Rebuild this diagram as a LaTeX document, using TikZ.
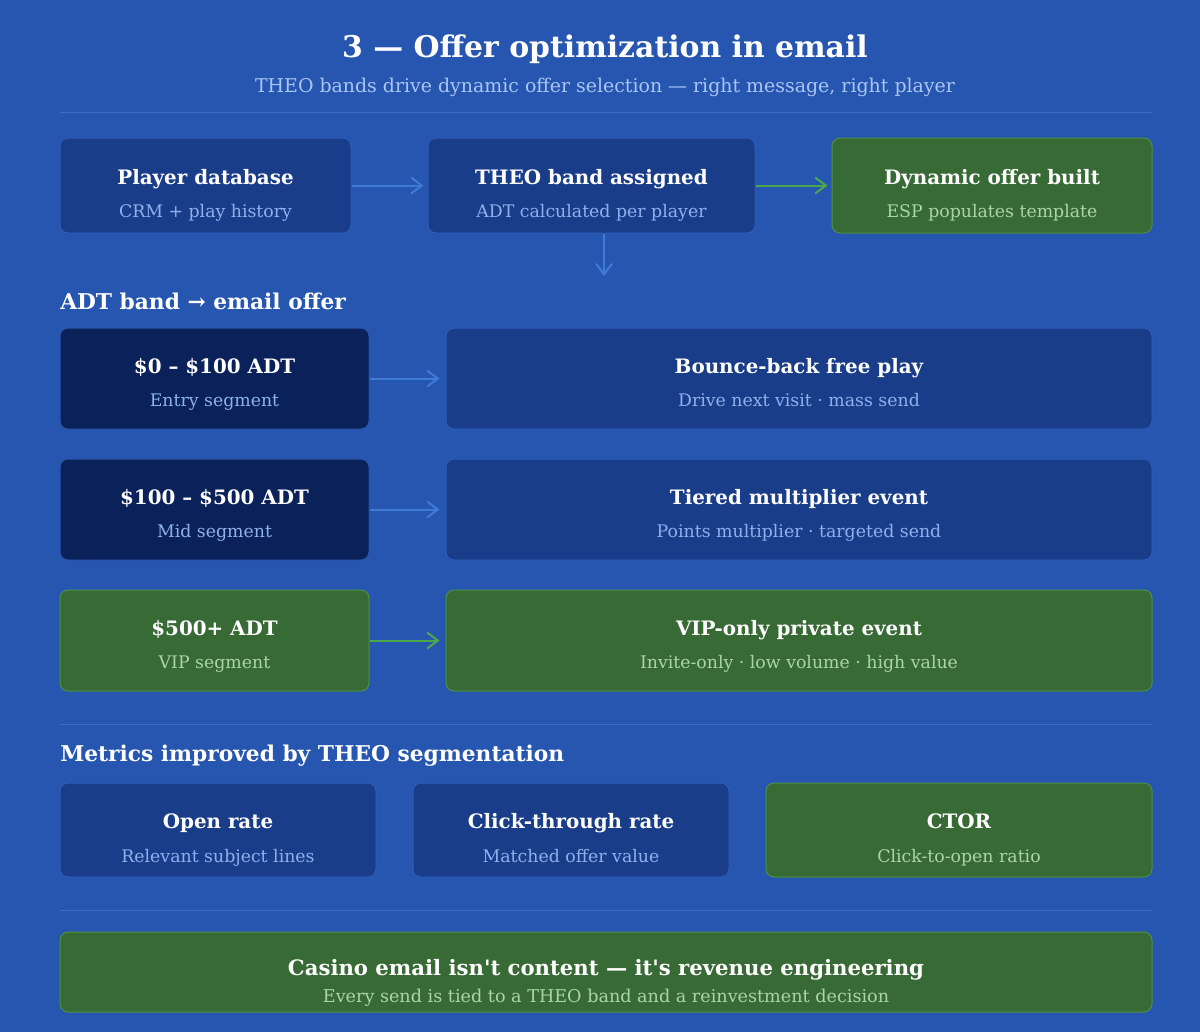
\documentclass[tikz,border=0pt]{standalone}
\usepackage{fontspec}
\setmainfont{DejaVu Serif}[Ligatures=TeXOff]
\usetikzlibrary{arrows.meta,fit}
\definecolor{bg}{HTML}{2756B0}
\definecolor{divc}{HTML}{3B6CC6}
\definecolor{bluefill}{HTML}{1A3D8A}
\definecolor{blueedge}{HTML}{2D5DB9}
\definecolor{navyfill}{HTML}{0B2159}
\definecolor{navyedge}{HTML}{2A55A8}
\definecolor{greenfill}{HTML}{386A35}
\definecolor{greenedge}{HTML}{4C8F45}
\definecolor{barrowc}{HTML}{3F7AD6}
\definecolor{garrowc}{HTML}{4CA84C}
\definecolor{bsub}{HTML}{8DB1EC}
\definecolor{gsub}{HTML}{A8D8A2}
\definecolor{hsub}{HTML}{A9C5F2}
\begin{document}
\begin{tikzpicture}[x=0.75pt,y=-0.75pt,
  boxbase/.style={rounded corners=6pt, line width=0.75pt, inner sep=0pt},
  bluebox/.style={boxbase, fill=bluefill, draw=blueedge},
  navybox/.style={boxbase, fill=navyfill, draw=navyedge},
  greenbox/.style={boxbase, fill=greenfill, draw=greenedge},
  ttl/.style={anchor=base, inner sep=0pt, text=white, font=\fontsize{14.9}{18}\selectfont\bfseries},
  bst/.style={anchor=base, inner sep=0pt, text=bsub, font=\fontsize{13}{16}\selectfont},
  gst/.style={anchor=base, inner sep=0pt, text=gsub, font=\fontsize{13}{16}\selectfont},
  hdr/.style={anchor=base west, inner sep=0pt, text=white, font=\fontsize{16.3}{19}\selectfont\bfseries},
  barrow/.style={draw=barrowc, line width=1.5pt, -{Straight Barb[length=8pt,width=12pt]}},
  garrow/.style={draw=garrowc, line width=1.5pt, -{Straight Barb[length=8pt,width=12pt]}},
  divline/.style={draw=divc, line width=0.75pt}
]
\fill[bg] (0,0) rectangle (1200,1032);
\useasboundingbox (0,0) rectangle (1200,1032);

% header
\node[anchor=base, inner sep=0pt, text=white, font=\fontsize{22.4}{26}\selectfont\bfseries] (title) at (605,57) {3 — Offer optimization in email};
\node[anchor=base, inner sep=0pt, text=hsub, font=\fontsize{14.2}{17}\selectfont] (subtitle) at (605,92) {THEO bands drive dynamic offer selection — right message, right player};
\draw[divline] (60,112) -- (1152,112);

% row 1
\node[bluebox, fit={(60,138) (351,233)}] (pd) {};
\node[bluebox, fit={(428,138) (755,233)}] (tb) {};
\node[greenbox, fit={(832,138) (1152,233)}] (dob) {};
\node[ttl] (pdt) at (205.5,184) {Player database};
\node[bst] (pds) at (205.5,217) {CRM + play history};
\node[ttl] (tbt) at (591.5,184) {THEO band assigned};
\node[bst] (tbs) at (591.5,217) {ADT calculated per player};
\node[ttl] (dobt) at (992,184) {Dynamic offer built};
\node[gst] (dobs) at (992,217) {ESP populates template};
\draw[barrow, shorten >=3pt] (pd.east) -- (tb.west);
\draw[garrow, shorten >=3pt] (tb.east) -- (dob.west);
\coordinate (dn) at (604,276);
\draw[barrow] (tb.south -| dn) -- (dn);

% ADT section
\node[hdr] (adth) at (60,309) {ADT band → email offer};

\node[navybox, fit={(60,328) (369,429)}] (b1) {};
\node[bluebox, fit={(446,328) (1152,429)}] (o1) {};
\node[ttl] (b1t) at (214.5,373) {\$0 – \$100 ADT};
\node[bst] (b1s) at (214.5,406) {Entry segment};
\node[ttl] (o1t) at (799,373) {Bounce-back free play};
\node[bst] (o1s) at (799,406) {Drive next visit · mass send};
\draw[barrow, shorten >=4.5pt] (b1.east) -- (o1.west);

\node[navybox, fit={(60,459) (369,560)}] (b2) {};
\node[bluebox, fit={(446,459) (1152,560)}] (o2) {};
\node[ttl] (b2t) at (214.5,504) {\$100 – \$500 ADT};
\node[bst] (b2s) at (214.5,537) {Mid segment};
\node[ttl] (o2t) at (799,504) {Tiered multiplier event};
\node[bst] (o2s) at (799,537) {Points multiplier · targeted send};
\draw[barrow, shorten >=4.5pt] (b2.east) -- (o2.west);

\node[greenbox, fit={(60,590) (369,691)}] (b3) {};
\node[greenbox, fit={(446,590) (1152,691)}] (o3) {};
\node[ttl] (b3t) at (214.5,635) {\$500+ ADT};
\node[gst] (b3s) at (214.5,668) {VIP segment};
\node[ttl] (o3t) at (799,635) {VIP-only private event};
\node[gst] (o3s) at (799,668) {Invite-only · low volume · high value};
\draw[garrow, shorten >=4.5pt] (b3.east) -- (o3.west);

\draw[divline] (60,724) -- (1152,724);

% metrics
\node[hdr] (meth) at (60,761) {Metrics improved by THEO segmentation};
\node[bluebox, fit={(60,783) (376,877)}] (m1) {};
\node[bluebox, fit={(413,783) (729,877)}] (m2) {};
\node[greenbox, fit={(766,783) (1152,877)}] (m3) {};
\node[ttl] (m1t) at (218,828) {Open rate};
\node[bst] (m1s) at (218,862) {Relevant subject lines};
\node[ttl] (m2t) at (571,828) {Click-through rate};
\node[bst] (m2s) at (571,862) {Matched offer value};
\node[ttl] (m3t) at (959,828) {CTOR};
\node[gst] (m3s) at (959,862) {Click-to-open ratio};

\draw[divline] (60,910) -- (1152,910);

% final
\node[greenbox, fit={(60,932) (1152,1012)}] (fin) {};
\node[ttl, font=\fontsize{15.9}{19}\selectfont\bfseries] (fint) at (606,975) {Casino email isn't content — it's revenue engineering};
\node[gst, font=\fontsize{13.2}{16}\selectfont] (fins) at (606,1002) {Every send is tied to a THEO band and a reinvestment decision};
\end{tikzpicture}
\end{document}
